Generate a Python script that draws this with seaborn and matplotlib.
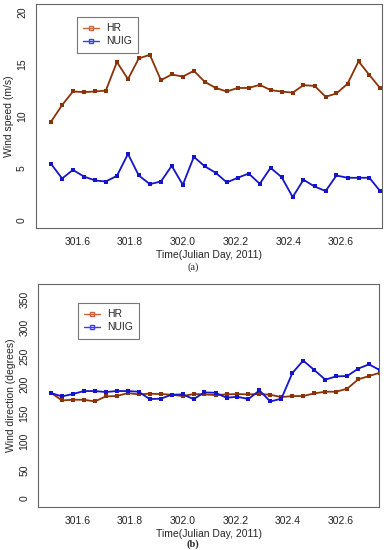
import pandas as pd
import seaborn as sns
from matplotlib import pyplot as plt
from matplotlib.lines import Line2D

# hourly samples, Julian day 2011
time = [301.500, 301.542, 301.583, 301.625, 301.667, 301.708, 301.750, 301.792,
        301.833, 301.875, 301.917, 301.958, 302.000, 302.042, 302.083, 302.125,
        302.167, 302.208, 302.250, 302.292, 302.333, 302.375, 302.417, 302.458,
        302.500, 302.542, 302.583, 302.625, 302.667, 302.708, 302.750]

speed_hr = [9.45, 11.05, 12.36, 12.3, 12.36, 12.45, 15.2, 13.55, 15.55, 15.9,
            13.45, 14.0, 13.8, 14.35, 13.3, 12.7, 12.36, 12.7, 12.7, 13.0,
            12.5, 12.35, 12.25, 12.97, 12.9, 11.85, 12.17, 13.1, 15.27, 13.95, 12.65]
speed_nuig = [5.38, 3.97, 4.8, 4.16, 3.78, 3.68, 4.23, 6.34, 4.26, 3.43,
              3.68, 5.19, 3.36, 6.06, 5.15, 4.52, 3.59, 4.04, 4.45, 3.46,
              5.0, 4.1, 2.18, 3.85, 3.2, 2.76, 4.26, 4.04, 4.04, 4.04, 2.72]

dir_hr = [185.8, 172.3, 173.5, 173.5, 170.5, 179.4, 180.0, 185.2, 182.9, 184.1,
          183.5, 182.3, 180.0, 183.5, 182.9, 181.7, 182.9, 183.5, 182.9, 183.5,
          182.3, 178.2, 180.0, 180.0, 184.7, 187.6, 187.6, 192.9, 209.3, 215.2, 221.1]
dir_nuig = [185.2, 179.4, 183.5, 188.8, 188.8, 187.0, 188.8, 188.8, 187.6, 174.7,
            175.3, 182.3, 182.9, 174.7, 186.4, 185.8, 177.0, 178.8, 174.7, 189.9,
            170.5, 175.3, 220.5, 242.3, 225.8, 208.8, 214.6, 215.2, 228.2, 235.8, 225.2]

stations = ["HR", "NUIG"]
colors = {"HR": "#8b3208", "NUIG": "#1414c8"}
legend_colors = {"HR": "#c8643c", "NUIG": "#3c3cf0"}
x_ticks = [301.6, 301.8, 302.0, 302.2, 302.4, 302.6]


def long_frame(hr, nuig):
    df = pd.DataFrame({"time": time, "HR": hr, "NUIG": nuig})
    return df.melt(id_vars="time", var_name="station", value_name="value")


def draw_panel(ax, df, ylabel, yticks, ylim, xlim, tag, tag_y, tag_weight, legend_anchor):
    sns.lineplot(data=df, x="time", y="value", hue="station", hue_order=stations,
                 palette=colors, marker="s", markersize=3.0, markeredgewidth=0,
                 linewidth=1.3, ax=ax, legend=False)
    ax.set_xlim(*xlim)
    ax.set_ylim(*ylim)
    ax.set_xticks(x_ticks)
    ax.set_xticklabels(["%.1f" % t for t in x_ticks])
    ax.set_yticks(yticks)
    ax.set_yticklabels([str(v) for v in yticks], rotation=90, va="center")
    ax.tick_params(direction="out", length=4, width=0.7, color="#555555",
                   labelsize=7.5, labelcolor="#222222", pad=2.5)
    for s in ax.spines.values():
        s.set_visible(True)
        s.set_color("#666666")
        s.set_linewidth(0.8)
    ax.set_xlabel("Time(Julian Day, 2011)", fontsize=7.5, labelpad=2)
    ax.set_ylabel(ylabel, fontsize=7.5, labelpad=2)
    fig.text(0.5, tag_y, tag, ha="center", va="center", fontsize=7.5,
             family="Liberation Serif", fontweight=tag_weight)
    handles = [Line2D([0], [0], color=legend_colors[s], lw=1.0, marker="s",
                      markersize=3.5, markerfacecolor="none",
                      markeredgecolor=legend_colors[s]) for s in stations]
    leg = ax.legend(handles, stations, loc="upper left", bbox_to_anchor=legend_anchor,
                    borderaxespad=0, fontsize=7.5, frameon=True, fancybox=False,
                    handlelength=1.5, handletextpad=0.7, borderpad=0.6,
                    labelspacing=0.3)
    leg.get_frame().set_edgecolor("#555555")
    leg.get_frame().set_linewidth(0.8)


sns.set_style("white")
plt.rcParams["font.family"] = ["Liberation Sans", "DejaVu Sans"]

fig = plt.figure(figsize=(3.86, 5.5), dpi=100)
ax1 = fig.add_axes([0.0933, 0.5855, 0.8964, 0.4073])
ax2 = fig.add_axes([0.0992, 0.0782, 0.8834, 0.4055])

draw_panel(ax1, long_frame(speed_hr, speed_nuig), "Wind speed (m/s)",
           [0, 5, 10, 15, 20], (-0.8, 20.8), (301.443, 302.756), "(a)", 0.514,
           "normal", (0.118, 0.942))
draw_panel(ax2, long_frame(dir_hr, dir_nuig), "Wind direction (degrees)",
           [0, 50, 100, 150, 200, 250, 300, 350], (-15, 377), (301.452, 302.747),
           "(b)", 0.011, "bold", (0.116, 0.915))

fig.savefig("out.png", dpi=100)
